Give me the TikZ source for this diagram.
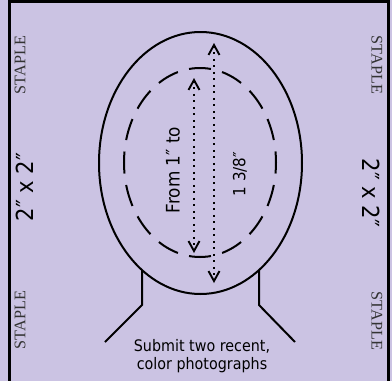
\documentclass[tikz,border=0pt]{standalone}
\usepackage{fontspec}
\usetikzlibrary{arrows.meta}
\newfontfamily\tah[FakeStretch=0.9]{DejaVu Sans}
\newfontfamily\tms{Liberation Serif}
\definecolor{bg}{HTML}{CBC3E3}
\tikzset{
  staple/.style={font=\tms\fontsize{16.2}{18}\selectfont, text=black!80, inner sep=0pt},
  size/.style={font=\tah\fontsize{23.5}{26}\selectfont, inner sep=0pt},
  meas/.style={font=\tah\fontsize{18.7}{20}\selectfont, inner sep=0pt},
  fracs/.style={font=\tah\fontsize{16.8}{18}\selectfont, inner sep=0pt},
  note/.style={font=\tah\fontsize{15.9}{18}\selectfont, align=center, inner sep=0pt},
  face/.style={line width=2pt},
  dimarrow/.style={line width=1.8pt, dash pattern=on 1.8pt off 4.7pt,
    arrows={Straight Barb[length=10pt,width=11pt,line width=1.9pt]-Straight Barb[length=10pt,width=11pt,line width=1.9pt]}}
}
\begin{document}
\begin{tikzpicture}[x=1pt,y=-1pt]
\fill[bg] (0,0) rectangle (392,381);
\useasboundingbox (0,0) rectangle (392,381);
% border
\draw[line width=3pt] (9.5,381) -- (9.5,1.2) -- (388.5,1.2) -- (388.5,381);
% face
\coordinate (c) at (200.5,163);
\draw[face] (c) ellipse [x radius=101.5, y radius=131];
\draw[face, dash pattern=on 22pt off 11.576pt, dash phase=11pt] (200,162.5) ellipse [x radius=76, y radius=94.5];
% neck
\coordinate (nl1) at (142,270); \coordinate (nl2) at (142,305); \coordinate (nl3) at (105,342);
\coordinate (nr1) at (259,270); \coordinate (nr2) at (259,305); \coordinate (nr3) at (295,342);
\draw[face] (nl1) -- (nl2) -- (nl3);
\draw[face] (nr1) -- (nr2) -- (nr3);
% dimension arrows
\coordinate (ia) at (194,78); \coordinate (ib) at (194,253);
\coordinate (oa) at (214,43); \coordinate (ob) at (214,283);
\draw[dimarrow] (ia) -- (ib);
\draw[dimarrow] (oa) -- (ob);
% texts
\node[meas, rotate=90] (from) at (173,170) {From 1″ to};
\node[fracs, rotate=90] (frac) at (240,174) {1 3/8″};
\node[size, rotate=90] (szl) at (25,187) {2″ x 2″};
\node[size, rotate=-90] (szr) at (371,193) {2″ x 2″};
\node[staple, rotate=90] (s1) at (20,65) {STAPLE};
\node[staple, rotate=90] (s2) at (20,320) {STAPLE};
\node[staple, rotate=-90] (s3) at (377,65) {STAPLE};
\node[staple, rotate=-90] (s4) at (377,321) {STAPLE};
\node[note] (sub) at (202,356) {Submit two recent,\\color photographs};
\end{tikzpicture}
\end{document}
